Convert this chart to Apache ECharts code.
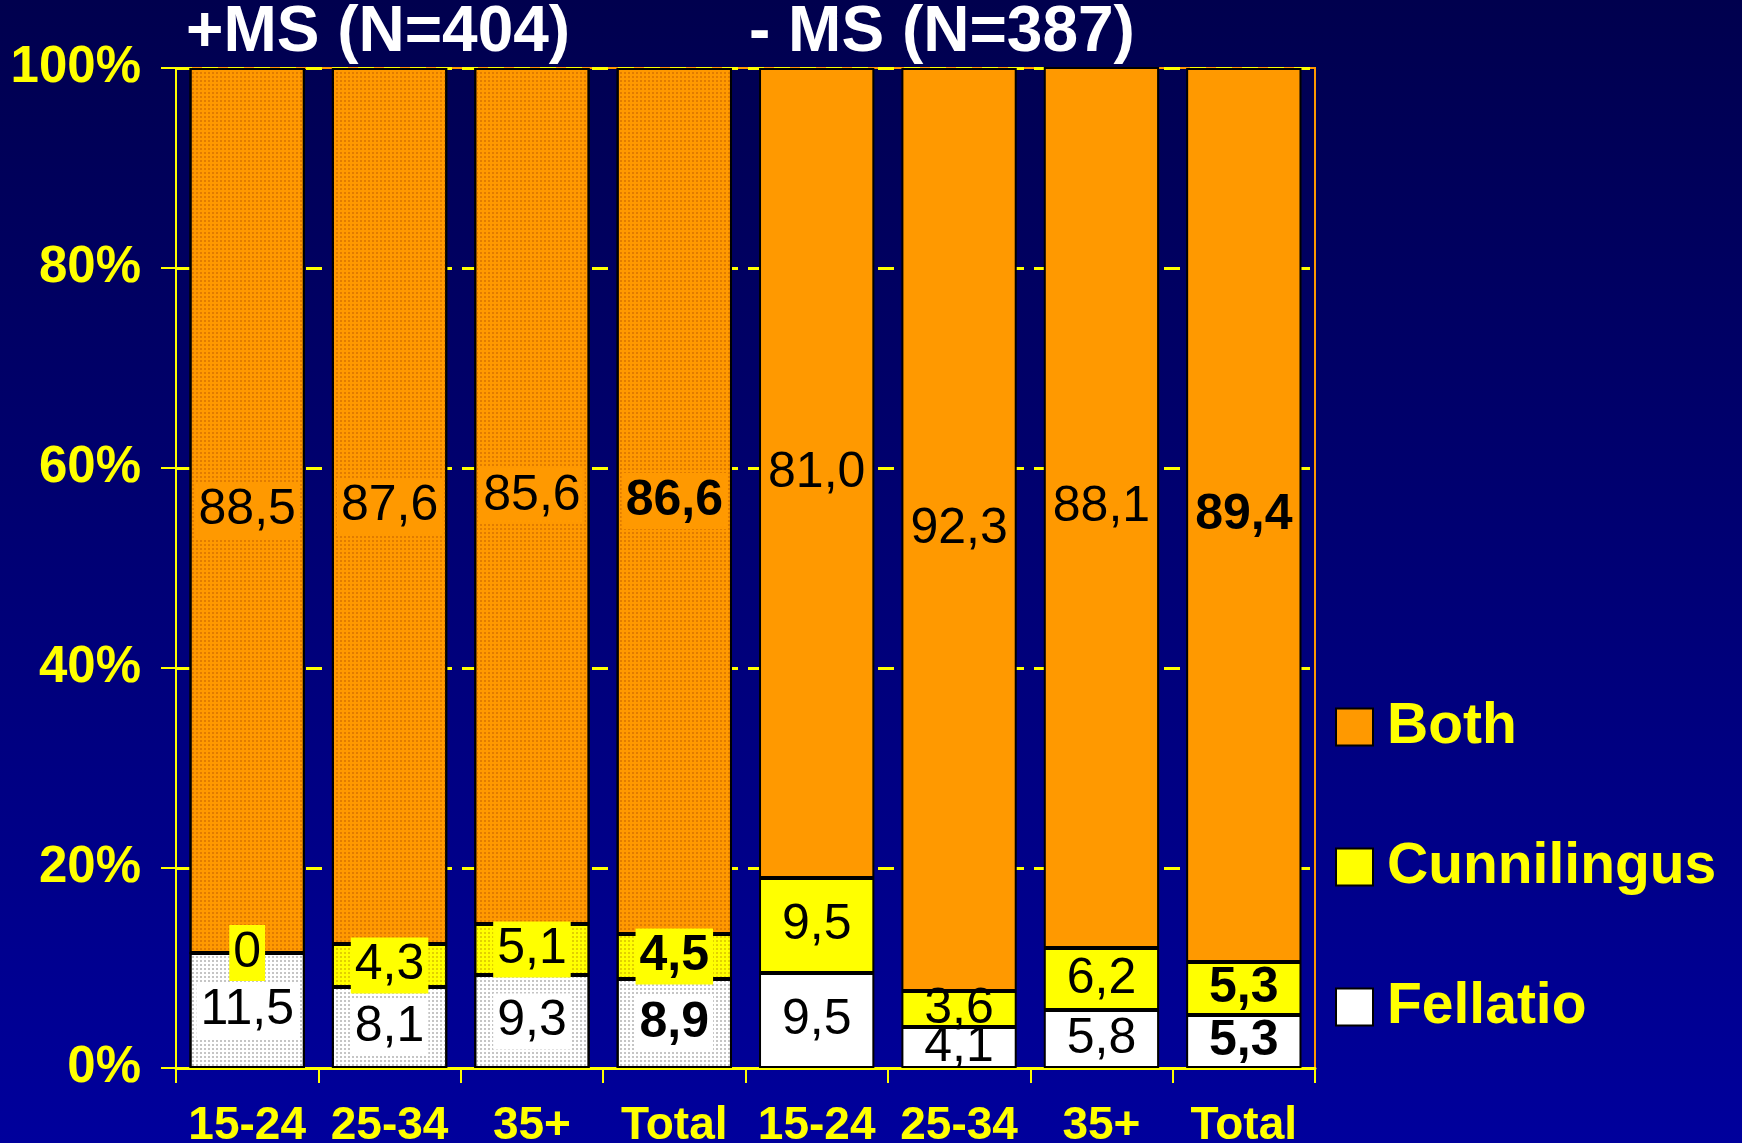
<!DOCTYPE html>
<html>
<head>
<meta charset="utf-8">
<script src="https://cdn.jsdelivr.net/npm/echarts@6/dist/echarts.min.js"></script>
<style>
  html, body { margin: 0; padding: 0; }
  #chart { width: 1742px; height: 1143px; }
</style>
</head>
<body>
<div id="chart"></div>
<script>
const categories = ['15-24', '25-34', '35+', 'Total', '15-24', '25-34', '35+', 'Total'];
const groupTitles = ['+MS (N=404)', '- MS (N=387)'];
const fellatio    = [11.5, 8.1, 9.3, 8.9, 9.5, 4.1, 5.8, 5.3];
const cunnilingus = [0,    4.3, 5.1, 4.5, 9.5, 3.6, 6.2, 5.3];
const both        = [88.5, 87.6, 85.6, 86.6, 81.0, 92.3, 88.1, 89.4];
const texturedIdx = [0, 1, 2, 3];      // +MS bars have dotted texture
const boldIdx = [3, 7];                // Total bars have bold labels
const yTicks = [0, 20, 40, 60, 80, 100];

const FONT = "'Liberation Sans', Arial, sans-serif";
const COLORS = { Fellatio: '#FFFFFF', Cunnilingus: '#FFFF00', Both: '#FF9900' };
const DOTS = { Fellatio: 'rgba(150,150,150,0.55)', Cunnilingus: 'rgba(200,170,0,0.55)', Both: 'rgba(200,100,0,0.55)' };

function fmt(v) { return v === 0 ? '0' : v.toFixed(1).replace('.', ','); }

function buildData(name, arr) {
  return arr.map((v, i) => {
    const textured = texturedIdx.indexOf(i) >= 0;
    const item = {
      value: v,
      label: {
        fontWeight: boldIdx.indexOf(i) >= 0 ? 'bold' : 'normal'
      }
    };
    if (textured) {
      item.itemStyle = {
        decal: {
          symbol: 'rect', symbolSize: 1,
          dashArrayX: [2, 2], dashArrayY: [2, 2],
          color: DOTS[name]
        }
      };
      item.label.backgroundColor = COLORS[name];
      item.label.padding = [4, 4, 2, 4];
    }
    return item;
  });
}

function makeSeries(name, arr) {
  return {
    name: name,
    type: 'bar',
    stack: 'all',
    barCategoryGap: '19%',
    data: buildData(name, arr),
    itemStyle: { color: COLORS[name], borderColor: '#000', borderWidth: 2 },
    label: {
      show: true,
      position: 'inside',
      color: '#000',
      fontFamily: FONT,
      fontSize: 50,
      formatter: p => fmt(p.value)
    }
  };
}

const chart = echarts.init(document.getElementById('chart'));
chart.setOption({
  backgroundColor: new echarts.graphic.LinearGradient(0, 0, 0, 1, [
    { offset: 0, color: '#00004E' },
    { offset: 1, color: '#00009C' }
  ]),
  animation: false,
  title: [
    { text: groupTitles[0], left: 181, top: -4,
      textStyle: { color: '#fff', fontFamily: FONT, fontWeight: 'bold', fontSize: 64 } },
    { text: groupTitles[1], left: 744, top: -4,
      textStyle: { color: '#fff', fontFamily: FONT, fontWeight: 'bold', fontSize: 64 } }
  ],
  grid: { left: 176, right: 427, top: 68, bottom: 75, show: true,
          containLabel: false, outerBoundsMode: 'none',
          borderColor: '#FF9900', borderWidth: 2, backgroundColor: 'transparent' },
  legend: {
    orient: 'vertical',
    left: 1330, top: 692,
    data: ['Both', 'Cunnilingus', 'Fellatio'],
    icon: 'rect',
    itemWidth: 37, itemHeight: 37, itemGap: 80,
    textStyle: { color: '#FFFF00', fontFamily: FONT, fontWeight: 'bold', fontSize: 57,
                 lineHeight: 60, padding: [0, 0, 0, 9] }
  },
  xAxis: {
    type: 'category',
    data: categories,
    axisLine: { lineStyle: { color: '#FFFF00', width: 3 } },
    axisTick: { show: true, length: 15, lineStyle: { color: '#FFFF00', width: 2 } },
    axisLabel: { color: '#FFFF00', fontFamily: FONT, fontWeight: 'bold', fontSize: 46, margin: 35, interval: 0 }
  },
  yAxis: {
    type: 'value',
    min: yTicks[0], max: yTicks[yTicks.length - 1], interval: 20,
    axisLine: { show: true, lineStyle: { color: '#FFFF00', width: 2 } },
    axisTick: { show: true, length: 15, lineStyle: { color: '#FFFF00', width: 2 } },
    axisLabel: { color: '#FFFF00', fontFamily: FONT, fontWeight: 'bold', fontSize: 51, margin: 35,
                 formatter: '{value}%' },
    splitLine: { show: true, lineStyle: { color: '#FFFF00', width: 3, type: [16, 10] } }
  },
  series: [
    makeSeries('Fellatio', fellatio),
    makeSeries('Cunnilingus', cunnilingus),
    makeSeries('Both', both)
  ]
});
</script>
</body>
</html>
